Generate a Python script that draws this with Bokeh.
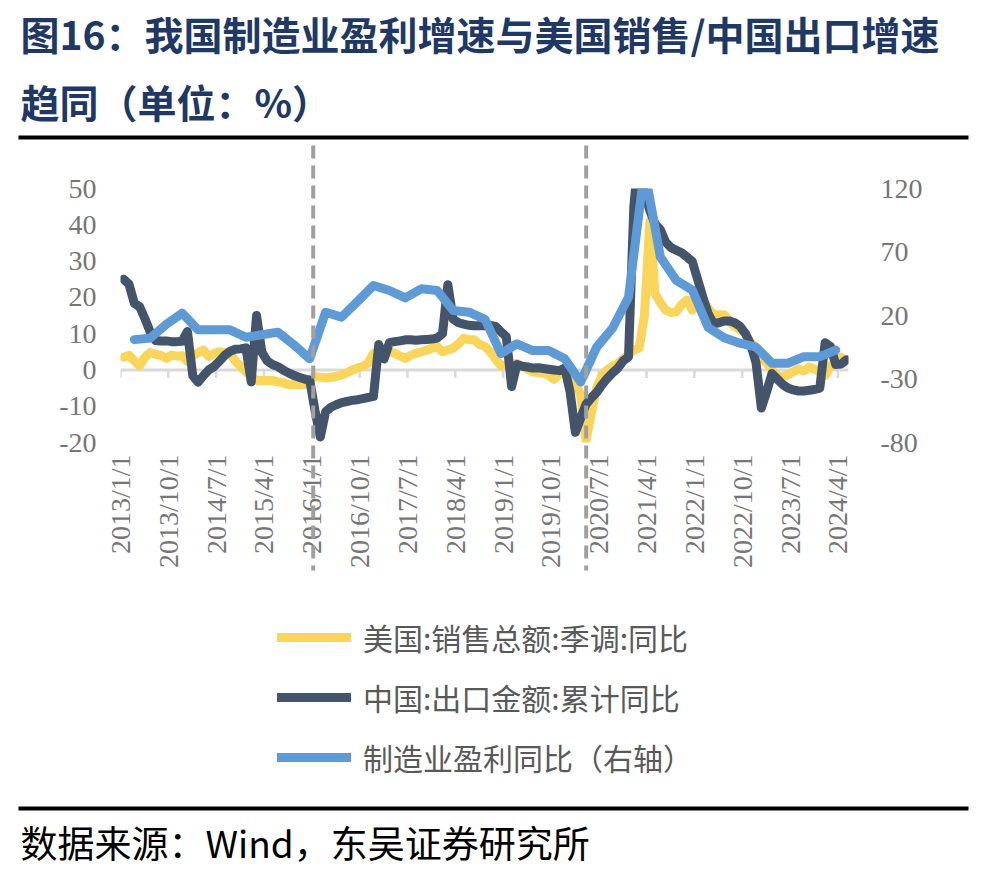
import math
from bokeh.plotting import figure
from bokeh.models import (Range1d, LinearAxis, FixedTicker, Legend, LegendItem,
                          Label, Span, ColumnDataSource)
from bokeh.embed import file_html
from bokeh.resources import INLINE

# ---------------- texts ----------------
TITLE_LINE1 = "图16：我国制造业盈利增速与美国销售/中国出口增速"
TITLE_LINE2 = "趋同（单位：%）"
SOURCE_TEXT = "数据来源：Wind，东吴证券研究所"
SERIES_NAMES = ["美国:销售总额:季调:同比", "中国:出口金额:累计同比", "制造业盈利同比（右轴）"]

# ---------------- data ----------------
# monthly series, first value = 2013/1
US_SALES = [
    3.5, 4.0, 2.5, 1.2, 3.5, 4.8, 4.3, 4.0, 3.2, 4.1, 3.8, 3.9,          # 2013
    2.3, 3.8, 4.8, 5.5, 3.7, 4.5, 5.0, 4.8, 4.4, 2.5, 1.0, -0.5,         # 2014
    -1.8, -2.9, -2.9, -2.9, -2.9, -3.3, -3.5, -4.0, -4.0, -4.1, -4.0, -2.8,  # 2015
    -1.8, -2.0, -2.2, -2.0, -1.8, -1.4, -0.8, 0.0, 0.5, 1.0, 1.8, 4.6,   # 2016
    5.0, 5.5, 5.0, 4.6, 3.8, 3.2, 4.0, 4.6, 5.0, 5.5, 6.0, 6.4,          # 2017
    5.0, 5.5, 6.0, 7.2, 8.7, 8.3, 8.3, 7.0, 6.4, 5.0, 3.0, 1.2,          # 2018
    1.2, 1.5, 1.8, 1.0, 0.2, -0.5, -0.7, -0.9, -1.5, -2.6, -1.2, -0.5,   # 2019
    -0.9, -3.5, -7.0, -19.5, -12.0, -5.0, -1.5, 0.0, 1.0, 1.8, 3.0, 4.3, # 2020
    5.5, 6.0, 15.0, 41.0, 21.0, 18.5, 16.5, 15.8, 16.0, 18.0, 19.3, 16.5,  # 2021
    18.0, 19.3, 17.0, 15.2, 15.2, 15.2, 13.3, 12.0, 11.0, 10.0, 7.5, 6.0,  # 2022
    3.5, 1.8, 0.0, -1.8, -1.8, -1.4, -0.5, 0.3, -0.3, 0.8, 0.2, -0.5,    # 2023
    -1.5, 1.0, 2.5, 3.5,                                                 # 2024
]
CN_EXPORTS = [
    25.0, 23.6, 18.4, 17.4, 14.1, 10.4, 8.1, 8.0, 8.0, 7.8, 7.8, 7.9,    # 2013
    10.6, -1.6, -3.4, -1.6, 0.0, 0.9, 2.4, 4.0, 5.1, 5.7, 5.8, 6.1,      # 2014
    -3.3, 15.0, 4.9, 2.5, 1.5, 0.9, 0.0, -0.8, -1.5, -2.0, -2.5, -2.8,   # 2015
    -11.2, -18.5, -11.5, -10.3, -9.6, -9.0, -8.7, -8.4, -8.2, -7.9, -7.6, -7.3,  # 2016
    7.0, 3.0, 7.5, 7.8, 8.0, 8.3, 8.3, 8.2, 8.3, 8.4, 8.5, 8.8,          # 2017
    10.0, 23.5, 14.0, 13.0, 12.6, 12.3, 12.2, 12.2, 12.2, 12.3, 12.0, 10.5,  # 2018
    9.2, -4.6, 1.5, 1.0, 0.8, 0.5, 0.6, 0.4, 0.2, 0.0, -0.2, 0.5,        # 2019
    -6.0, -17.2, -13.3, -9.5, -7.7, -6.2, -4.1, -2.3, -0.8, 0.5, 2.5, 3.6,  # 2020
    45.0, 60.6, 49.0, 44.0, 40.2, 38.6, 35.2, 33.7, 33.0, 32.3, 31.1, 29.9,  # 2021
    25.0, 20.0, 15.5, 12.7, 13.0, 13.5, 13.5, 13.0, 12.0, 10.0, 7.0, 2.0,   # 2022
    -10.5, -6.0, -1.0, -2.5, -4.0, -5.0, -5.5, -5.8, -5.8, -5.6, -5.4, -5.0,  # 2023
    7.5, 6.5, 1.5, 1.6, 2.8,                                             # 2024
]
# quarterly series (right axis)
PROFIT_QUARTERS = [
    "2013/3", "2013/6", "2013/9", "2013/12", "2014/3", "2014/6", "2014/9", "2014/12",
    "2015/3", "2015/6", "2015/9", "2015/12", "2016/3", "2016/6", "2016/9", "2016/12",
    "2017/3", "2017/6", "2017/9", "2017/12", "2018/3", "2018/6", "2018/9", "2018/12",
    "2019/3", "2019/6", "2019/9", "2019/12", "2020/3", "2020/6", "2020/9", "2020/12",
    "2021/3", "2021/6", "2021/9", "2021/12", "2022/3", "2022/6", "2022/9", "2022/12",
    "2023/3", "2023/6", "2023/9", "2023/12", "2024/3",
]
PROFIT = [
    1.0, 2.2, 13.0, 21.8, 8.7, 8.7, 8.7, 2.9,
    4.8, 6.9, -3.0, -14.1, 22.6, 18.7, 31.0, 43.6,
    39.7, 33.9, 41.0, 39.7, 23.9, 22.6, 17.0, -10.0,
    -2.3, -7.6, -7.6, -14.1, -32.3, -5.0, 10.0, 34.4,
    135.0, 66.0, 47.6, 40.0, 10.5, 2.5, -1.8, -4.9,
    -17.6, -17.6, -12.4, -12.4, -7.2,
]
X_TICK_LABELS = ["2013/1/1", "2013/10/1", "2014/7/1", "2015/4/1", "2016/1/1", "2016/10/1",
                 "2017/7/1", "2018/4/1", "2019/1/1", "2019/10/1", "2020/7/1", "2021/4/1",
                 "2022/1/1", "2022/10/1", "2023/7/1", "2024/4/1"]
LEFT_TICKS = [-20, -10, 0, 10, 20, 30, 40, 50]
RIGHT_TICKS = [-80, -30, 20, 70, 120]
EVENT_DATES = ["2016/1/9", "2020/4/20"]
X_FIRST, X_LAST = "2013/1/1", "2024/6/1"

# ---------------- helpers ----------------
def month_index(label):
    parts = [int(t) for t in label.split("/")]
    y, m = parts[0], parts[1]
    d = parts[2] if len(parts) > 2 else 1
    v = (y - 2013) * 12 + (m - 1) + (d - 1) / 30.0
    return int(v) if float(v).is_integer() else v

POINT_OFFSET = 0.6   # monthly values are drawn late in their month
YELLOW, NAVY_LINE, BLUE = "#FAD55C", "#44546A", "#5E9BD6"
GREY_TXT, AXIS_GREY, TITLE_NAVY = "#767676", "#D9D9D9", "#1F3864"
W, H = 986, 870

X0, X1 = month_index(X_FIRST), month_index(X_LAST)
YL0, YL1 = LEFT_TICKS[0], LEFT_TICKS[-1]
YR0, YR1 = RIGHT_TICKS[0], RIGHT_TICKS[-1]

FRAME_L, FRAME_T, FRAME_W, FRAME_H = 120, 188, 728, 254
LINE_STYLE = dict(line_width=9, line_join="round", line_cap="round")
SERIES_COLORS = [YELLOW, NAVY_LINE, BLUE]

# ---------------- main chart ----------------
p = figure(frame_width=FRAME_W, frame_height=FRAME_H,
           min_border_left=FRAME_L, min_border_top=FRAME_T,
           min_border_right=W - FRAME_L - FRAME_W, min_border_bottom=H - FRAME_T - FRAME_H,
           x_range=Range1d(X0, X1), y_range=Range1d(YL0, YL1),
           output_backend="svg", toolbar_location=None, tools="")
p.extra_y_ranges = {"right": Range1d(YR0, YR1)}
p.xgrid.visible = False
p.ygrid.visible = False
p.outline_line_color = None
p.background_fill_color = "white"
p.border_fill_color = "white"

right_axis = LinearAxis(y_range_name="right", ticker=FixedTicker(ticks=RIGHT_TICKS))
p.add_layout(right_axis, "right")

xticks = [month_index(l) for l in X_TICK_LABELS]
p.xaxis.ticker = FixedTicker(ticks=xticks)
p.xaxis.major_label_overrides = {t: l for t, l in zip(xticks, X_TICK_LABELS)}
p.xaxis.major_label_orientation = math.pi / 2
p.yaxis[0].ticker = FixedTicker(ticks=LEFT_TICKS)
p.yaxis[0].major_label_overrides = {t: str(t) for t in LEFT_TICKS}
right_axis.major_label_overrides = {t: str(t) for t in RIGHT_TICKS}

for ax in [p.xaxis[0], p.yaxis[0], right_axis]:
    ax.axis_line_color = None
    ax.major_tick_line_color = None
    ax.minor_tick_line_color = None
    ax.major_tick_out = 0
    ax.major_tick_in = 0
    ax.minor_tick_out = 0
    ax.minor_tick_in = 0
    ax.major_label_text_font = "Liberation Serif"
    ax.major_label_text_font_size = "28px"
    ax.major_label_text_color = GREY_TXT
p.xaxis.major_label_standoff = 12
p.yaxis[0].major_label_standoff = 24
right_axis.major_label_standoff = 32

# zero line with downward tick marks
p.add_layout(Span(location=0, dimension="width", line_color=AXIS_GREY,
                  line_width=3, level="underlay"))
tick_len = 8 / FRAME_H * (YL1 - YL0)
p.segment(x0=xticks, y0=[0] * len(xticks), x1=xticks, y1=[-tick_len] * len(xticks),
          line_color=AXIS_GREY, line_width=2.5)

# series
src_us = ColumnDataSource(dict(x=[i + POINT_OFFSET for i in range(len(US_SALES))], y=US_SALES))
src_cn = ColumnDataSource(dict(x=[i + POINT_OFFSET for i in range(len(CN_EXPORTS))], y=CN_EXPORTS))
src_pf = ColumnDataSource(dict(x=[month_index(q) + POINT_OFFSET for q in PROFIT_QUARTERS], y=PROFIT))

r_us = p.line("x", "y", source=src_us, line_color=YELLOW, **LINE_STYLE)
r_cn = p.line("x", "y", source=src_cn, line_color=NAVY_LINE, **LINE_STYLE)
r_pf = p.line("x", "y", source=src_pf, line_color=BLUE, y_range_name="right", **LINE_STYLE)

# ---------------- page overlay: title, rules, event lines, legend, source ----------------
o = figure(width=W, height=H, x_range=Range1d(0, W), y_range=Range1d(H, 0),
           min_border=0, x_axis_location=None, y_axis_location=None,
           output_backend="svg", toolbar_location=None, tools="")
o.grid.visible = False
o.outline_line_color = None
o.background_fill_color = None
o.border_fill_color = None
o.styles = {"position": "absolute", "left": "0px", "top": "0px"}

def page_x(month):
    return FRAME_L + (month - X0) / (X1 - X0) * FRAME_W

ev_x = [page_x(month_index(d)) for d in EVENT_DATES]
o.segment(x0=ev_x, y0=[145] * len(ev_x), x1=ev_x, y1=[570] * len(ev_x),
          line_color="#A0A0A0", line_width=4, line_dash="13 7")
o.segment(x0=[18, 18], y0=[137, 808], x1=[968, 968], y1=[137, 808],
          line_color="black", line_width=4)

# legend samples share the series styles (a single off-page point draws no line)
legend_renderers = [o.line(x=[-100], y=[-100], line_color=c, **LINE_STYLE)
                    for c in SERIES_COLORS]
legend = Legend(items=[LegendItem(label=n, renderers=[r])
                       for n, r in zip(SERIES_NAMES, legend_renderers)],
                location=(277, 90), orientation="vertical",
                glyph_width=74, glyph_height=46, label_height=46, spacing=14,
                label_standoff=12, padding=0, margin=0,
                border_line_color=None, background_fill_alpha=0,
                label_text_font="Noto Sans CJK SC", label_text_font_size="30px",
                label_text_color="#595959")
o.add_layout(legend)

o.add_layout(Label(x=20, y=32, text=TITLE_LINE1, text_font="Noto Sans CJK SC",
                   text_font_size="39px", text_font_style="bold", text_color=TITLE_NAVY,
                   text_baseline="middle", text_align="left"))
o.add_layout(Label(x=20, y=100, text=TITLE_LINE2, text_font="Noto Sans CJK SC",
                   text_font_size="39px", text_font_style="bold", text_color=TITLE_NAVY,
                   text_baseline="middle", text_align="left"))
o.add_layout(Label(x=20, y=841, text=SOURCE_TEXT, text_font="Noto Sans CJK SC",
                   text_font_size="37px", text_color="black",
                   text_baseline="middle", text_align="left"))

open("out.html", "w").write(file_html([p, o], INLINE))
